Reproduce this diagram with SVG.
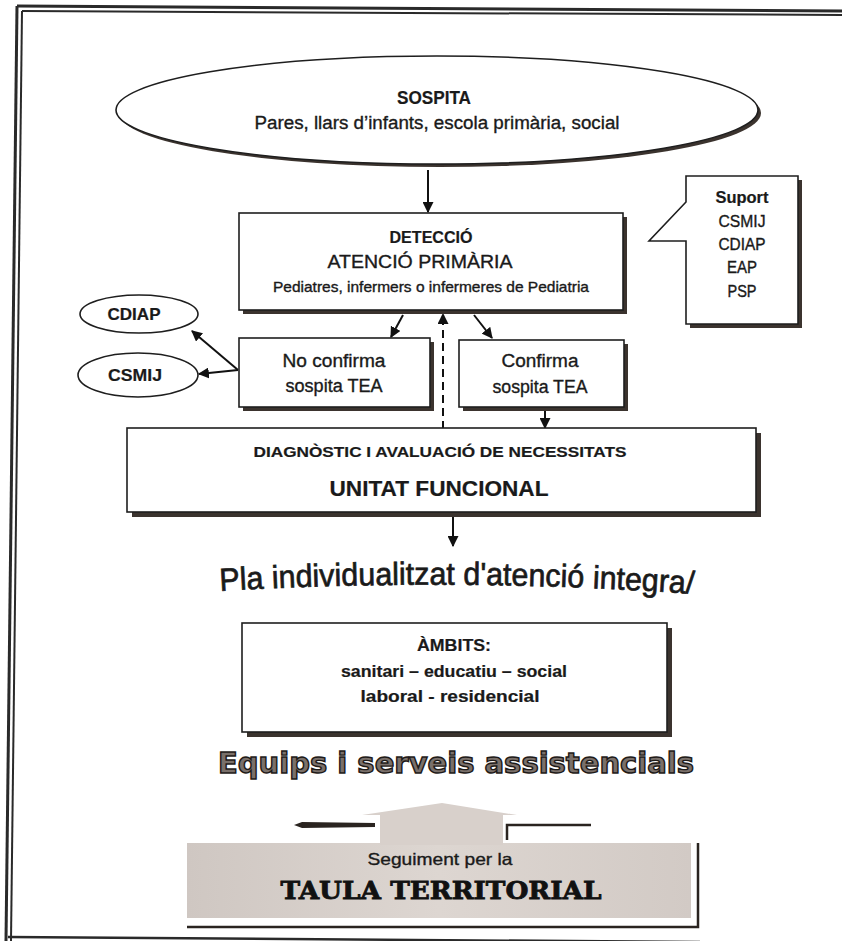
<svg xmlns="http://www.w3.org/2000/svg" width="842" height="941" viewBox="0 0 842 941">
<defs>
<style>
.t{font-family:"Liberation Sans",Arial,sans-serif;fill:#1a1a1a;stroke:#1a1a1a;stroke-width:0.35;text-anchor:middle}
.b{font-weight:bold;stroke-width:0.2}
.box{fill:#fff;stroke:#1e1e1e;stroke-width:1.6}
.sh{fill:#3b332e}
.con{stroke:#111;stroke-width:2;fill:none}
.frame{stroke:#2a2a2a;fill:none}
</style>
<marker id="ah" viewBox="0 0 10 10" refX="9" refY="5" markerWidth="5.5" markerHeight="5.5" orient="auto-start-reverse">
<path d="M0,0 L10,5 L0,10 z" fill="#111"/>
</marker>
<linearGradient id="gg" x1="0" y1="0" x2="1" y2="0">
<stop offset="0" stop-color="#cfc7c2"/>
<stop offset="0.5" stop-color="#ddd6d1"/>
<stop offset="1" stop-color="#d2cac5"/>
</linearGradient>
</defs>
<rect width="842" height="941" fill="#fff"/>
<g id="frame">
<path class="frame" d="M17 6 L842 11" stroke-width="3"/>
<path class="frame" d="M22 11 L842 15" stroke-width="2"/>
<path class="frame" d="M17 6 L6 941" stroke-width="3"/>
<path class="frame" d="M22 11 L11 941" stroke-width="2"/>
<path class="frame" d="M8 937 L700 942" stroke-width="2.5"/>
</g>
<g id="connectors">
<line class="con" x1="428" y1="170" x2="428" y2="212" marker-end="url(#ah)"/>
<line class="con" x1="403" y1="315" x2="391" y2="337" marker-end="url(#ah)"/>
<line class="con" x1="474" y1="315" x2="492" y2="338" marker-end="url(#ah)"/>
<line class="con" x1="238" y1="370" x2="192" y2="331" marker-end="url(#ah)"/>
<line class="con" x1="238" y1="370" x2="199" y2="374" marker-end="url(#ah)"/>
<line class="con" x1="443" y1="429" x2="443" y2="314" stroke-dasharray="8,5" stroke-width="2.4" marker-end="url(#ah)"/>
<line class="con" x1="545" y1="408" x2="545" y2="428" marker-end="url(#ah)"/>
<line class="con" x1="453" y1="515" x2="453" y2="546" marker-end="url(#ah)"/>
</g>
<g id="sospita">
<ellipse cx="440" cy="113" rx="321" ry="54" fill="#3b332e"/>
<ellipse class="box" cx="437" cy="110" rx="321" ry="54"/>
<text class="t b" x="434" y="104" font-size="17.5" textLength="74" lengthAdjust="spacingAndGlyphs">SOSPITA</text>
<text class="t" x="437" y="129" font-size="18" textLength="365" lengthAdjust="spacingAndGlyphs">Pares, llars d’infants, escola primària, social</text>
</g>
<g id="deteccio">
<rect class="sh" x="243" y="217" width="384" height="97"/>
<rect class="box" x="239" y="213" width="384" height="97"/>
<text class="t b" x="431" y="243" font-size="17" textLength="83" lengthAdjust="spacingAndGlyphs">DETECCIÓ</text>
<text class="t" x="420" y="268" font-size="18" textLength="185" lengthAdjust="spacingAndGlyphs">ATENCIÓ PRIMÀRIA</text>
<text class="t" x="431" y="292" font-size="14.5" textLength="316" lengthAdjust="spacingAndGlyphs">Pediatres, infermers o infermeres de Pediatria</text>
</g>
<g id="suport">
<polygon class="sh" points="690,180 802,180 802,328 690,328"/>
<polygon class="box" points="686,176 798,176 798,324 686,324 686,241 649,241 686,202"/>
<text class="t b" x="742" y="203" font-size="16" textLength="53" lengthAdjust="spacingAndGlyphs">Suport</text>
<text class="t" x="742" y="227" font-size="16" textLength="47" lengthAdjust="spacingAndGlyphs">CSMIJ</text>
<text class="t" x="742" y="250" font-size="16" textLength="47" lengthAdjust="spacingAndGlyphs">CDIAP</text>
<text class="t" x="742" y="273" font-size="16" textLength="30" lengthAdjust="spacingAndGlyphs">EAP</text>
<text class="t" x="742" y="297" font-size="16" textLength="29" lengthAdjust="spacingAndGlyphs">PSP</text>
</g>
<g id="noconfirma">
<rect class="sh" x="243" y="342" width="191" height="69"/>
<rect class="box" x="239" y="338" width="191" height="69"/>
<text class="t" x="334" y="367" font-size="18" textLength="103" lengthAdjust="spacingAndGlyphs">No confirma</text>
<text class="t" x="334" y="392" font-size="18" textLength="97" lengthAdjust="spacingAndGlyphs">sospita TEA</text>
</g>
<g id="confirma">
<rect class="sh" x="463" y="344" width="165" height="67"/>
<rect class="box" x="459" y="340" width="165" height="67"/>
<text class="t" x="540" y="367" font-size="18" textLength="77" lengthAdjust="spacingAndGlyphs">Confirma</text>
<text class="t" x="540" y="393" font-size="18" textLength="95" lengthAdjust="spacingAndGlyphs">sospita TEA</text>
</g>
<g id="cdiap">
<ellipse class="box" cx="139" cy="314" rx="59" ry="19"/>
<text class="t b" x="134" y="320" font-size="16.5" textLength="53" lengthAdjust="spacingAndGlyphs">CDIAP</text>
</g>
<g id="csmij">
<ellipse class="box" cx="138" cy="375" rx="60" ry="22"/>
<text class="t b" x="135" y="381" font-size="16.5" textLength="54" lengthAdjust="spacingAndGlyphs">CSMIJ</text>
</g>
<g id="diagnostic">
<rect class="sh" x="132" y="433" width="629" height="84"/>
<rect class="box" x="127" y="428" width="629" height="84"/>
<text class="t b" x="440" y="457" font-size="15" textLength="373" lengthAdjust="spacingAndGlyphs">DIAGNÒSTIC I AVALUACIÓ DE NECESSITATS</text>
<text class="t b" x="439" y="496" font-size="22.5" textLength="219" lengthAdjust="spacingAndGlyphs">UNITAT FUNCIONAL</text>
</g>
<g id="pla">
<path id="plapath" d="M220 591 Q457 577 694 594" fill="none"/>
<text font-family="'Liberation Sans',Arial,sans-serif" font-size="32" fill="#1a1a1a" stroke="#1a1a1a" stroke-width="0.7"><textPath href="#plapath" textLength="474" lengthAdjust="spacingAndGlyphs">Pla individualitzat d'atenció integra/</textPath></text>
</g>
<g id="ambits">
<rect class="sh" x="247" y="628" width="425" height="109"/>
<rect class="box" x="242" y="623" width="425" height="109"/>
<text class="t b" x="454" y="651" font-size="16" textLength="74" lengthAdjust="spacingAndGlyphs">ÀMBITS:</text>
<text class="t b" x="454" y="677" font-size="16.5" textLength="226" lengthAdjust="spacingAndGlyphs">sanitari – educatiu – social</text>
<text class="t b" x="450" y="702" font-size="16.5" textLength="179" lengthAdjust="spacingAndGlyphs">laboral - residencial</text>
</g>
<g id="equips">
<text x="456" y="773" font-family="'DejaVu Sans',sans-serif" font-weight="bold" font-size="28" text-anchor="middle" fill="#7a706a" stroke="#1e1a18" stroke-width="1.4" textLength="476" lengthAdjust="spacingAndGlyphs">Equips i serveis assistencials</text>
</g>
<g id="taula">
<polygon fill="#2a2420" points="294,825 302,822 375,823 375,827 302,828"/>
<polyline points="507,840 507,825 591,825" fill="none" stroke="#2a2420" stroke-width="2.5"/>
<polyline points="187,927 698,927 698,843" fill="none" stroke="#2a2420" stroke-width="2.5"/>
<rect x="187" y="843" width="504" height="75" fill="url(#gg)"/>
<polygon fill="#d8d0cb" points="380,845 380,815 362,815 442,803 517,815 503,815 503,845"/>
<text class="t" x="440" y="865" font-size="16.5" textLength="145" lengthAdjust="spacingAndGlyphs">Seguiment per la</text>
<text x="441" y="899" font-family="'DejaVu Serif',serif" font-weight="bold" font-size="24" text-anchor="middle" fill="#111" stroke="#111" stroke-width="0.8" textLength="321" lengthAdjust="spacingAndGlyphs">TAULA TERRITORIAL</text>
</g>
</svg>
